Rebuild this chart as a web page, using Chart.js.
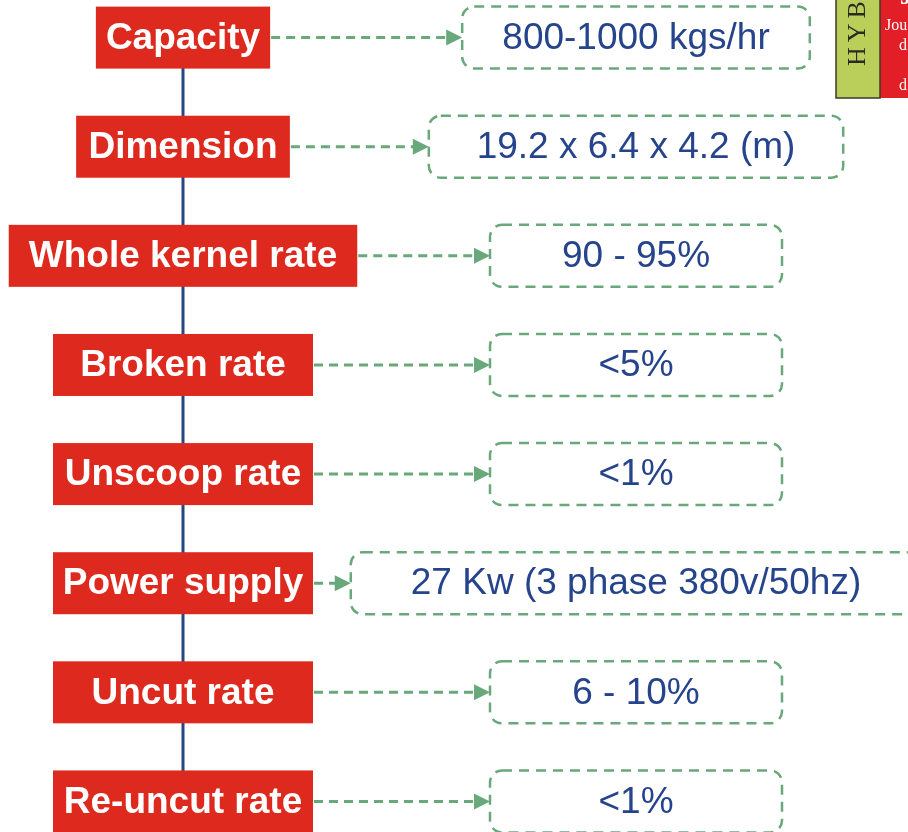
<!DOCTYPE html>
<html>
<head>
<meta charset="utf-8">
<script src="https://cdn.jsdelivr.net/npm/chart.js@4"></script>
<style>
  html, body { margin: 0; padding: 0; background: #fff; }
  canvas { display: block; }
</style>
</head>
<body>
<canvas id="diagram" width="908" height="832"></canvas>
<script>
// spec items, one row each
const specNames = ['Capacity', 'Dimension', 'Whole kernel rate', 'Broken rate',
                   'Unscoop rate', 'Power supply', 'Uncut rate', 'Re-uncut rate'];
const specValues = ['800-1000 kgs/hr', '19.2 x 6.4 x 4.2 (m)', '90 - 95%', '<5%',
                    '<1%', '27 Kw (3 phase 380v/50hz)', '6 - 10%', '<1%'];
const specRows = [0, 1, 2, 3, 4, 5, 6, 7];

const RED = 'rgb(222,42,30)';
const GREEN = 'rgb(104,168,122)';
const BLUE = 'rgb(38,68,140)';
const SPINE = 'rgb(36,72,130)';
const spineAt = 183;   // x of the vertical connector (layout units)
const valueAt = 636;   // centre of the value boxes

const specPlugin = {
    id: 'specBoxes',
    afterDatasetsDraw(chart) {
        const {ctx, scales: {x, y}} = chart;
        const sx = x.getPixelForValue(spineAt);
        const vx = x.getPixelForValue(valueAt);
        ctx.save();
        specRows.forEach((row, i) => {
            const cy = y.getPixelForValue(row);

            // red label - first three fit their text, the rest share one width
            ctx.font = 'bold 37px "Liberation Sans", Arial, sans-serif';
            const tw = ctx.measureText(specNames[i]).width;
            const w = i < 3 ? tw * 1.13 : 260;
            ctx.fillStyle = RED;
            ctx.fillRect(sx - w / 2, cy - 31, w, 62);
            ctx.fillStyle = '#fff';
            ctx.textAlign = 'center';
            ctx.textBaseline = 'middle';
            ctx.fillText(specNames[i], sx, cy + 1);

            // dashed value box
            ctx.font = '37px "Liberation Sans", Arial, sans-serif';
            const vw = ctx.measureText(specValues[i]).width;
            const bw = Math.max(292, vw + Math.min(120, vw * 0.3));
            const left = vx - bw / 2;
            ctx.strokeStyle = GREEN;
            ctx.lineWidth = 2.5;
            ctx.setLineDash([10, 7]);
            ctx.beginPath();
            ctx.roundRect(left, cy - 31, bw, 62, 12);
            ctx.stroke();

            // arrow
            const from = sx + w / 2 + 1;
            const tip = left;
            ctx.lineWidth = 3;
            ctx.setLineDash([9, 6]);
            ctx.beginPath();
            ctx.moveTo(from, cy);
            ctx.lineTo(tip - 12, cy);
            ctx.stroke();
            ctx.setLineDash([]);
            ctx.fillStyle = GREEN;
            ctx.beginPath();
            ctx.moveTo(tip, cy);
            ctx.lineTo(tip - 16, cy - 8);
            ctx.lineTo(tip - 16, cy + 8);
            ctx.closePath();
            ctx.fill();

            ctx.fillStyle = BLUE;
            ctx.fillText(specValues[i], vx, cy + 1);
        });

        // corner of a journal cover peeking in at top right
        const gx = x.getPixelForValue(836), rx = x.getPixelForValue(880);
        ctx.fillStyle = 'rgb(186,206,90)';
        ctx.fillRect(gx, -2, rx - gx, 100);
        ctx.fillStyle = 'rgb(226,30,38)';
        ctx.fillRect(rx, -2, 40, 100);
        ctx.strokeStyle = '#3a3a2a';
        ctx.lineWidth = 1.5;
        ctx.strokeRect(gx, -2, rx - gx, 100);
        ctx.save();
        ctx.translate(gx + 29, 66);
        ctx.rotate(-Math.PI / 2);
        ctx.fillStyle = '#2a2a20';
        ctx.font = '26px "Liberation Serif", serif';
        ctx.letterSpacing = '5px';
        ctx.textAlign = 'left';
        ctx.textBaseline = 'alphabetic';
        ctx.fillText('HYB', 0, 0);
        ctx.restore();
        ctx.fillStyle = '#fff';
        ctx.font = '16px "Liberation Serif", serif';
        ctx.textAlign = 'left';
        ctx.textBaseline = 'alphabetic';
        ctx.fillText('Jou', rx + 5, 30);
        ctx.fillText('d', rx + 19, 50);
        ctx.fillText('d', rx + 19, 90);
        ctx.font = 'bold 24px "Liberation Serif", serif';
        ctx.fillText('J', rx + 20, 4);
        ctx.restore();
    }
};

new Chart(document.getElementById('diagram'), {
    type: 'scatter',
    data: {
        datasets: [{
            // vertical connector through all rows
            data: [{x: spineAt, y: specRows[0]}, {x: spineAt, y: specRows[specRows.length - 1]}],
            showLine: true,
            borderColor: SPINE,
            borderWidth: 3,
            pointRadius: 0
        }]
    },
    options: {
        responsive: false,
        animation: false,
        layout: {padding: 0},
        plugins: {legend: {display: false}, tooltip: {enabled: false}},
        scales: {
            x: {type: 'linear', min: 0, max: 908, display: false},
            y: {type: 'linear', min: -0.3446, max: 7.28, reverse: true, display: false}
        }
    },
    plugins: [specPlugin]
});
</script>
</body>
</html>
